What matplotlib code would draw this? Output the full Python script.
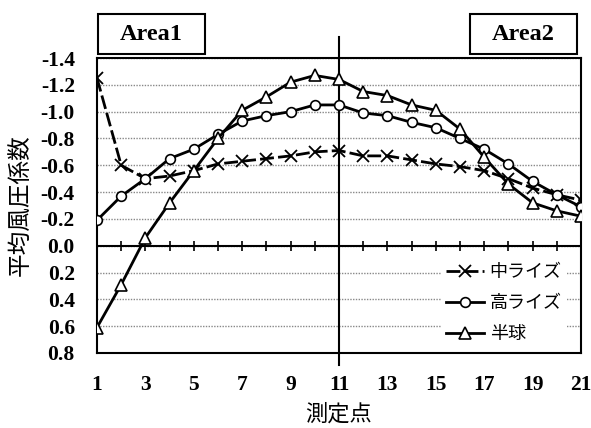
import matplotlib
matplotlib.use("Agg")
import matplotlib.pyplot as plt
from matplotlib.patches import Rectangle
import numpy as np

# 測定点
points = list(range(1, 22))
# 平均風圧係数 (y axis is inverted: suction at the top)
naka_rise = [-1.25, -0.60, -0.50, -0.52, -0.56, -0.61, -0.63, -0.65, -0.67, -0.70, -0.71,
             -0.67, -0.67, -0.64, -0.61, -0.59, -0.56, -0.50, -0.43, -0.38, -0.34]
taka_rise = [-0.19, -0.37, -0.50, -0.65, -0.72, -0.83, -0.93, -0.97, -1.00, -1.05, -1.05,
             -0.99, -0.97, -0.92, -0.88, -0.80, -0.72, -0.61, -0.48, -0.38, -0.29]
hankyu = [0.61, 0.29, -0.06, -0.32, -0.56, -0.80, -1.01, -1.11, -1.22, -1.27, -1.24,
          -1.15, -1.12, -1.05, -1.01, -0.87, -0.66, -0.46, -0.32, -0.26, -0.22]
labels = ["中ライズ", "高ライズ", "半球"]
yticks = [-1.4, -1.2, -1.0, -0.8, -0.6, -0.4, -0.2, 0.0, 0.2, 0.4, 0.6, 0.8]
xticks = list(range(1, 22, 2))

cjk = ["Noto Sans CJK JP", "DejaVu Sans"]
serif = "Liberation Serif"

fig = plt.figure(figsize=(5.91, 4.28), dpi=100)
ax = fig.add_axes([97/591, 1-353/428, 484/591, 295/428])

ax.plot(points, naka_rise, color="k", lw=2, ls=(0, (5, 1.5)), marker="x", ms=8, mew=1.3,
        label=labels[0], zorder=5)
ax.plot(points, taka_rise, color="k", lw=2, marker="o", ms=7, mfc="white", mew=1.2,
        label=labels[1], zorder=5)
ax.plot(points, hankyu, color="k", lw=2, marker="^", ms=8, mfc="white", mew=1.2,
        label=labels[2], zorder=5)

ax.set_xlim(1, 21)
ax.set_ylim(0.8, -1.4)
ax.set_yticks(yticks)
ax.set_yticklabels(["%.1f" % v for v in yticks], fontname=serif, fontweight="bold", fontsize=15.5)
ax.set_xticks(xticks)
ax.set_xticklabels([str(v) for v in xticks], fontname=serif, fontweight="bold", fontsize=15.5)
ax.tick_params(axis="y", length=0, pad=16)
ax.tick_params(axis="x", length=0, pad=16)
ax.grid(axis="y", color="#888888", ls=(0, (1, 1)), lw=1)
ax.set_axisbelow(True)
for s in ax.spines.values():
    s.set_linewidth(1.5)

# zero line with crossing ticks
ax.axhline(0, color="k", lw=1.5, zorder=3)
zero = ax.secondary_xaxis(0.8/2.2)
zero.set_xticks(points)
zero.tick_params(direction="inout", length=7, width=1.2, labelbottom=False)
zero.spines["bottom"].set_visible(False)

# boundary between areas
ax.axvline(11, ymin=-0.04, ymax=1.07, color="k", lw=1.5, clip_on=False, zorder=4)

# Area boxes
for x0, txt in [(1/484, "Area1"), (373/484, "Area2")]:
    ax.add_patch(Rectangle((x0, 1.012), 107/484, 40/295, transform=ax.transAxes,
                           fill=False, ec="k", lw=1.5, clip_on=False))
    ax.text(x0 + 53.5/484, 1.012 + 20/295, txt, transform=ax.transAxes, ha="center",
            va="center", fontname=serif, fontweight="bold", fontsize=17.5)

ax.set_ylabel("平均風圧係数", family=cjk, fontsize=17, labelpad=6)
ax.set_xlabel("測定点", family=cjk, fontsize=16, labelpad=5)

leg = ax.legend(loc="lower right", bbox_to_anchor=(0.99, -0.015), prop={"family": cjk, "size": 13},
                frameon=True, facecolor="white", edgecolor="none", framealpha=1,
                handlelength=2.1, labelspacing=0.72, handletextpad=0.3, borderpad=0.3)
leg.get_frame().set_boxstyle("square", pad=0)

fig.savefig("out.png", dpi=100)
